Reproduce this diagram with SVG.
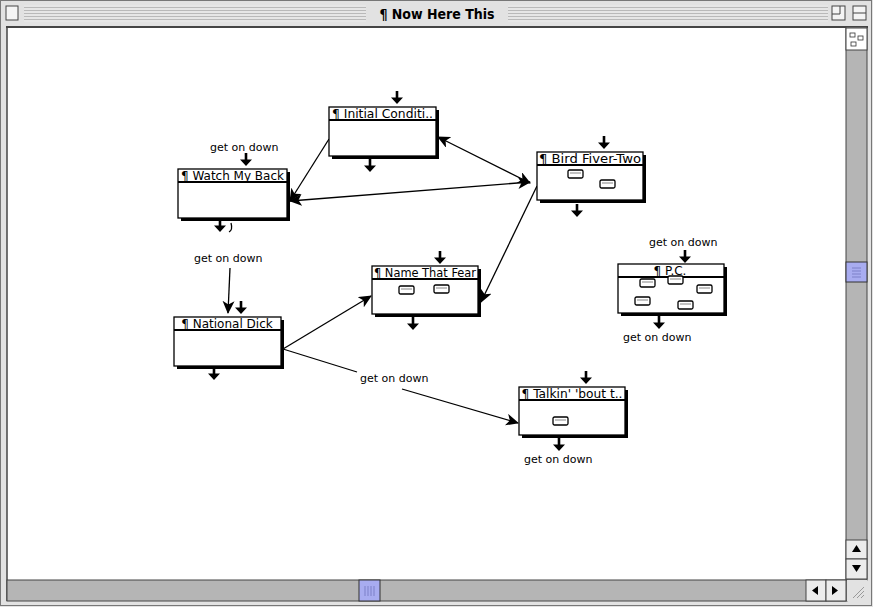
<svg xmlns="http://www.w3.org/2000/svg" width="873" height="607" viewBox="0 0 873 607">
  <defs>
    <pattern id="stripes" width="4" height="3" patternUnits="userSpaceOnUse">
      <rect width="4" height="3" fill="#e6e6e6"/>
      <rect y="1" width="4" height="1" fill="#b9b9b9"/>
    </pattern>
    <!-- port arrow, tip at origin, pointing down -->
    <path id="port" d="M0 0 L-6 -6.5 L-1.3 -6.5 L-1.3 -13 L1.3 -13 L1.3 -6.5 L6 -6.5 Z" fill="#000"/>
    <!-- little button glyph inside a node -->
    <g id="btn">
      <rect x="0" y="0" width="15" height="8" rx="1.5" fill="#fff" stroke="#000" stroke-width="1.3"/>
      <line x1="2" y1="3" x2="13" y2="3" stroke="#999" stroke-width="1.2"/>
    </g>
    <marker id="head" viewBox="0 0 13 12" refX="12" refY="6" markerWidth="13" markerHeight="12" markerUnits="userSpaceOnUse" orient="auto-start-reverse">
      <path d="M0 0 L13 6 L0 12 L3.5 6 Z" fill="#000"/>
    </marker>
  </defs>
  <style>
    .lbl { font-family: "DejaVu Sans", Verdana, sans-serif; font-size: 11px; fill: #000; }
    .ttl { font-family: "DejaVu Sans", Verdana, sans-serif; font-size: 12px; fill: #000; text-anchor: middle; }
    .wtitle { font-family: "DejaVu Sans Condensed", "DejaVu Sans", sans-serif; font-size: 14px; font-weight: bold; fill: #000; text-anchor: middle; }
    .box { fill: #fff; stroke: #000; stroke-width: 1.3; }
    .shadow { fill: #000; }
    .bar { stroke: #000; stroke-width: 2; }
    .edge { fill: none; stroke: #000; stroke-width: 1.3; }
  </style>

  <!-- window frame -->
  <rect x="0" y="0" width="873" height="607" fill="#e2e2e2"/>
  <rect x="0.5" y="0.5" width="871" height="605" fill="none" stroke="#777"/>
  <!-- title bar -->
  <rect x="24" y="5" width="342" height="17" fill="url(#stripes)"/>
  <rect x="508" y="5" width="320" height="17" fill="url(#stripes)"/>
  <rect x="6" y="6" width="12" height="14" fill="#f4f4f4" stroke="#444"/>
  <text class="wtitle" x="437" y="19">¶ Now Here This</text>
  <rect x="832" y="6" width="13" height="14" fill="#f4f4f4" stroke="#444"/>
  <path d="M832 14 H840 V6" fill="none" stroke="#444"/>
  <rect x="853" y="6" width="13" height="14" fill="#f4f4f4" stroke="#444"/>
  <line x1="853" y1="13" x2="866" y2="13" stroke="#444"/>

  <!-- content area -->
  <rect x="7" y="27" width="840" height="553" fill="#fff"/>
  <line x1="6" y1="27" x2="868" y2="27" stroke="#444" stroke-width="2"/>
  <line x1="7" y1="27" x2="7" y2="601" stroke="#444" stroke-width="1.5"/>

  <!-- vertical scroll bar -->
  <rect x="846" y="27" width="21" height="553" fill="#b5b5b5" stroke="#444"/>
  <rect x="846" y="28" width="21" height="22" fill="#fff" stroke="#444"/>
  <rect x="850" y="33" width="5" height="4" fill="#fff" stroke="#333" stroke-width="0.8"/>
  <rect x="858" y="36" width="5" height="4" fill="#fff" stroke="#333" stroke-width="0.8"/>
  <rect x="851" y="42" width="5" height="4" fill="#fff" stroke="#333" stroke-width="0.8"/>
  <rect x="846" y="262" width="21" height="20" fill="#a8acf0" stroke="#333"/>
  <path d="M852 268 H861 M852 271 H861 M852 274 H861 M852 277 H861" stroke="#7c80c8"/>
  <rect x="846" y="540" width="21" height="19" fill="#ececec" stroke="#444"/>
  <path d="M856.5 545 L861 552 L852 552 Z" fill="#000"/>
  <rect x="846" y="559" width="21" height="20" fill="#ececec" stroke="#444"/>
  <path d="M852 565 L861 565 L856.5 572 Z" fill="#000"/>

  <!-- horizontal scroll bar -->
  <rect x="7" y="580" width="840" height="21" fill="#b5b5b5" stroke="#444"/>
  <rect x="359" y="580" width="21" height="21" fill="#a8acf0" stroke="#333"/>
  <path d="M365 586 V596 M368 586 V596 M371 586 V596 M374 586 V596" stroke="#7c80c8"/>
  <rect x="806" y="580" width="20" height="21" fill="#ececec" stroke="#444"/>
  <path d="M812 590.5 L818 586 L818 595 Z" fill="#000"/>
  <rect x="826" y="580" width="20" height="21" fill="#ececec" stroke="#444"/>
  <path d="M838 590.5 L832 586 L832 595 Z" fill="#000"/>
  <rect x="847" y="580" width="20" height="21" fill="#e2e2e2"/>
  <path d="M853 598 L864 587 M857 598 L864 591 M861 598 L864 595" stroke="#999"/>

  <!-- connectors -->
  <g id="connectors">
    <line class="edge" x1="329" y1="139" x2="290" y2="201" marker-end="url(#head)"/>
    <line class="edge" x1="438" y1="137" x2="530" y2="183" marker-start="url(#head)" marker-end="url(#head)"/>
    <line class="edge" x1="290" y1="201" x2="530" y2="182" marker-start="url(#head)" marker-end="url(#head)"/>
    <line class="edge" x1="537" y1="186" x2="481" y2="302" marker-end="url(#head)"/>
    <line class="edge" x1="283" y1="349" x2="371" y2="296" marker-end="url(#head)"/>
    <polyline class="edge" points="283,349 357,372"/>
    <line class="edge" x1="402" y1="389" x2="518" y2="423" marker-end="url(#head)"/>
    <text class="lbl" x="360" y="382">get on down</text>
    <path class="edge" d="M231 223 Q233 230 229 232"/>
    <line class="edge" x1="230" y1="268" x2="228" y2="313" marker-end="url(#head)"/>
    <text class="lbl" x="194" y="262">get on down</text>
  </g>

  <!-- nodes -->
  <g id="initial-conditions">
    <use href="#port" x="397" y="104"/>
    <rect class="shadow" x="332" y="110" width="107" height="49"/>
    <rect class="box" x="329" y="107" width="107" height="49"/>
    <line class="bar" x1="329" y1="120" x2="436" y2="120"/>
    <text class="ttl" x="382.5" y="118" textLength="101" lengthAdjust="spacingAndGlyphs">¶ Initial Conditi..</text>
    <use href="#port" x="370" y="172"/>
  </g>

  <g id="watch-my-back">
    <text class="lbl" x="210" y="151">get on down</text>
    <use href="#port" x="246" y="166"/>
    <rect class="shadow" x="181" y="172" width="109" height="49"/>
    <rect class="box" x="178" y="169" width="109" height="49"/>
    <line class="bar" x1="178" y1="182" x2="287" y2="182"/>
    <text class="ttl" x="232.5" y="180" textLength="103" lengthAdjust="spacingAndGlyphs">¶ Watch My Back</text>
    <use href="#port" x="220" y="232"/>
  </g>

  <g id="bird-fiver-two">
    <use href="#port" x="604" y="149"/>
    <rect class="shadow" x="540" y="155" width="106" height="48"/>
    <rect class="box" x="537" y="152" width="106" height="48"/>
    <line class="bar" x1="537" y1="165" x2="643" y2="165"/>
    <text class="ttl" x="590" y="163" textLength="102" lengthAdjust="spacingAndGlyphs">¶ Bird Fiver-Two</text>
    <use href="#btn" x="568" y="170"/>
    <use href="#btn" x="600" y="180"/>
    <use href="#port" x="577" y="217"/>
  </g>

  <g id="name-that-fear">
    <use href="#port" x="440" y="264"/>
    <rect class="shadow" x="375" y="269" width="106" height="48"/>
    <rect class="box" x="372" y="266" width="106" height="48"/>
    <line class="bar" x1="372" y1="279" x2="478" y2="279"/>
    <text class="ttl" x="425" y="277" textLength="102" lengthAdjust="spacingAndGlyphs">¶ Name That Fear</text>
    <use href="#btn" x="399" y="286"/>
    <use href="#btn" x="434" y="285"/>
    <use href="#port" x="413" y="330"/>
  </g>

  <g id="national-dick">
    <use href="#port" x="241" y="314"/>
    <rect class="shadow" x="177" y="320" width="107" height="49"/>
    <rect class="box" x="174" y="317" width="107" height="49"/>
    <line class="bar" x1="174" y1="330" x2="281" y2="330"/>
    <text class="ttl" x="227" y="328">¶ National Dick</text>
    <use href="#port" x="214" y="380"/>
  </g>

  <g id="pc">
    <text class="lbl" x="649" y="246">get on down</text>
    <use href="#port" x="685" y="263"/>
    <rect class="shadow" x="621" y="267" width="106" height="49"/>
    <rect class="box" x="618" y="264" width="106" height="49"/>
    <line class="bar" x1="618" y1="277" x2="724" y2="277"/>
    <text class="ttl" x="670" y="275">¶ P.C.</text>
    <use href="#btn" x="640" y="279"/>
    <use href="#btn" x="668" y="276"/>
    <use href="#btn" x="697" y="285"/>
    <use href="#btn" x="635" y="297"/>
    <use href="#btn" x="678" y="301"/>
    <use href="#port" x="659" y="329"/>
    <text class="lbl" x="623" y="341">get on down</text>
  </g>

  <g id="talkin-bout">
    <use href="#port" x="586" y="384"/>
    <rect class="shadow" x="522" y="390" width="106" height="48"/>
    <rect class="box" x="519" y="387" width="106" height="48"/>
    <line class="bar" x1="519" y1="400" x2="625" y2="400"/>
    <text class="ttl" x="572" y="398" textLength="101" lengthAdjust="spacingAndGlyphs">¶ Talkin' 'bout t..</text>
    <use href="#btn" x="553" y="417"/>
    <use href="#port" x="559" y="451"/>
    <text class="lbl" x="524" y="463">get on down</text>
  </g>
</svg>
